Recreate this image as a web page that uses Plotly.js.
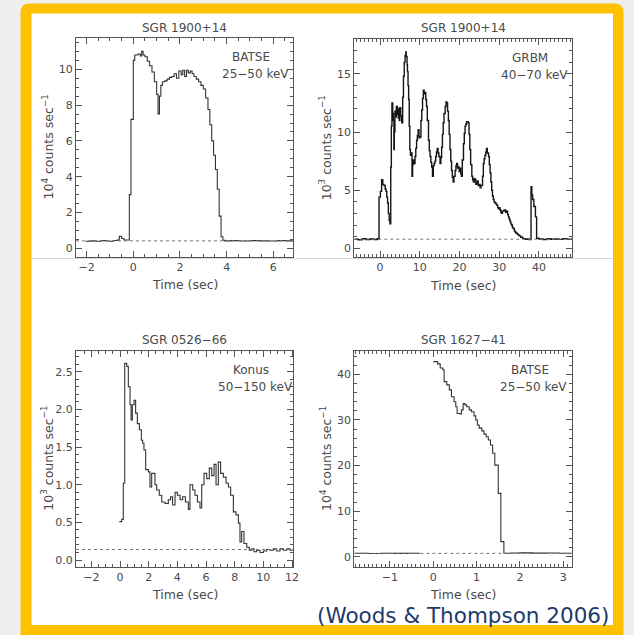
<!DOCTYPE html>
<html><head><meta charset="utf-8">
<script src="https://cdn.plot.ly/plotly-3.0.1.min.js"></script>
<style>html,body{margin:0;padding:0;background:#efefef;}</style>
</head><body><div id="chart" style="width:634px;height:635px;"></div>
<script>
// ---------- data ----------
const titles = ["SGR 1900+14", "SGR 1900+14", "SGR 0526\u221266", "SGR 1627\u221241"];
const instruments = ["BATSE", "GRBM", "Konus", "BATSE"];
const bands = ["25\u221250 keV", "40\u221270 keV", "50\u2212150 keV", "25\u221250 keV"];
const yUnits = ["10<sup>4</sup> counts sec<sup>\u22121</sup>", "10<sup>3</sup> counts sec<sup>\u22121</sup>",
                "10<sup>3</sup> counts sec<sup>\u22121</sup>", "10<sup>4</sup> counts sec<sup>\u22121</sup>"];
const bgLevels = [0.42, 0.78, 0.14, 0.73];

const t1 = [-2.05,-1.8,-1.6,-1.4,-1.2,-1.0,-0.85,-0.7,-0.6,-0.5,
  -0.4,-0.17,-0.1,0.0,0.06,0.2,0.3,0.36,0.42,0.5,
  0.6,0.7,0.8,0.9,1.0,1.06,1.12,1.18,1.25,1.35,
  1.45,1.55,1.65,1.75,1.85,1.95,2.05,2.12,2.2,2.28,
  2.36,2.44,2.52,2.6,2.7,2.8,2.9,3.0,3.1,3.2,
  3.28,3.36,3.44,3.52,3.6,3.68,3.76,3.84,3.92,4.2,
  4.6,5.0,5.4,5.8,6.2,6.6,6.85];
const c1 = [0.40,0.42,0.40,0.43,0.41,0.40,0.44,0.46,0.68,0.55,
  0.47,3.0,7.2,10.5,10.8,10.85,10.75,11.0,10.8,10.7,
  10.45,10.2,9.85,9.3,8.6,7.5,8.5,9.1,9.3,9.35,
  9.45,9.55,9.6,9.75,9.5,9.9,9.7,9.95,9.6,9.95,
  9.8,9.9,9.75,9.6,9.45,9.3,9.1,8.9,8.4,7.75,
  6.9,6.0,5.2,4.4,3.3,1.8,0.65,0.45,0.42,0.43,
  0.41,0.43,0.42,0.41,0.43,0.42,0.42];

const t2 = [-6.4,-5.5,-4.5,-3.5,-2.5,-1.5,-0.7,
  -0.25,0.1,0.4,0.7,1.0,1.3,1.5,1.7,1.9,2.1,2.3,2.5,
  2.7,2.85,3.0,3.2,3.35,3.5,3.6,3.75,3.9,4.1,
  4.4,4.6,4.7,4.85,5.0,5.2,5.45,5.7,5.9,6.1,
  6.3,6.5,6.6,6.8,6.9,7.05,7.2,7.35,7.5,7.65,
  7.8,8.05,8.2,8.4,8.6,8.8,9.0,9.2,9.4,9.6,
  9.8,10.1,10.3,10.5,10.7,10.9,11.1,11.3,11.5,11.7,
  11.9,12.2,12.4,12.6,12.8,13.0,13.2,13.4,13.6,13.8,
  14.0,14.2,14.4,14.6,14.8,15.1,15.3,15.5,15.7,15.9,
  16.1,16.4,16.6,16.8,17.0,17.2,17.4,17.6,17.8,18.0,
  18.2,18.4,18.6,18.9,19.1,19.3,19.5,19.7,19.9,20.1,
  20.3,20.5,20.7,21.0,21.2,21.4,21.6,21.8,22.0,22.2,
  22.4,22.6,22.8,23.1,23.3,23.5,23.7,23.9,24.1,24.3,
  24.5,24.7,24.9,25.2,25.4,25.6,25.8,26.0,26.2,26.4,
  26.6,26.8,27.0,27.3,27.5,27.7,27.9,28.1,28.3,28.5,
  28.7,28.9,29.2,29.4,29.6,29.8,30.0,30.2,30.4,30.6,
  30.8,31.0,31.2,31.4,31.6,31.9,32.1,32.3,32.5,32.7,
  32.9,33.1,33.3,33.5,33.8,34.0,34.2,34.4,34.6,34.8,
  35.0,35.2,35.4,35.6,35.9,36.1,36.5,37.0,37.5,38.0,
  38.2,38.4,38.7,39.1,39.4,40,41,42,43,44,
  45,46,47,48.3];
const c2 = [0.78,0.74,0.82,0.76,0.80,0.75,0.82,
  4.4,4.9,5.9,5.5,5.4,5.1,4.9,4.4,3.9,3.0,2.4,2.1,
  7.0,10.5,12.5,11.6,11.0,8.5,10.0,11.8,11.3,12.2,
  11.5,11.2,12.0,11.0,12.1,11.4,10.8,13.0,14.8,16.0,
  16.6,16.9,16.5,15.8,15.2,14.0,12.8,10.5,8.5,8.0,
  8.2,6.2,7.2,7.6,7.3,7.9,8.6,9.3,9.7,10.2,
  9.5,9.6,11.0,11.9,12.9,13.6,13.3,13.4,12.8,12.2,
  11.0,9.3,8.4,7.9,7.4,7.0,6.2,7.1,7.3,7.5,
  7.9,8.3,8.6,8.2,7.9,7.3,7.8,8.7,9.8,10.8,
  11.6,12.2,12.6,12.5,11.8,11.0,9.8,8.5,7.5,6.7,
  6.1,5.7,6.2,6.7,7.1,7.3,6.9,7.0,6.6,6.9,
  6.4,6.2,7.6,9.0,9.9,10.5,10.7,10.9,10.9,10.8,
  9.8,8.5,7.2,6.2,5.9,5.7,6.0,5.9,5.5,5.6,
  5.8,5.4,5.5,5.2,5.4,5.4,6.2,7.3,7.7,8.0,
  8.3,8.6,8.2,7.9,7.2,6.5,5.7,5.0,4.5,4.2,
  4.0,3.9,3.8,3.7,3.5,3.4,3.5,3.3,3.1,3.0,
  3.2,3.2,3.3,3.3,3.1,3.2,2.9,2.7,2.5,2.3,
  2.1,2.0,1.8,1.7,1.5,1.4,1.3,1.3,1.2,1.15,
  1.1,1.05,0.95,0.95,0.85,0.83,0.78,0.80,0.76,5.3,
  4.6,4.2,3.6,2.7,0.86,0.80,0.76,0.82,0.78,0.80,
  0.77,0.83,0.79,0.80];

const t3 = [-0.05,0.12,0.23,0.33,0.47,0.58,0.7,0.77,0.86,0.98,
  1.09,1.21,1.35,1.49,1.58,1.67,1.79,1.98,2.09,2.21,
  2.44,2.56,2.74,2.91,3.14,3.37,3.53,3.67,3.84,4.0,
  4.19,4.37,4.56,4.77,4.88,5.07,5.23,5.4,5.58,5.7,
  5.86,6.05,6.23,6.4,6.56,6.7,6.86,7.02,7.21,7.4,
  7.56,7.72,7.91,8.09,8.26,8.37,8.49,8.65,8.84,9.02,
  9.19,9.35,9.53,9.77,10.0,10.23,10.47,10.7,10.93,11.16,
  11.4,11.63,11.86,12.05];
const c3 = [0.51,0.54,1.02,2.61,2.57,2.3,2.06,1.86,2.06,2.12,
  1.95,1.81,1.73,1.59,1.55,1.46,1.2,1.17,0.97,1.15,
  1.0,0.93,0.86,0.77,0.75,0.8,0.84,0.73,0.9,0.86,
  0.8,0.84,0.77,0.67,1.0,0.93,0.86,0.77,0.69,1.0,
  1.15,1.08,1.22,1.12,1.27,1.0,1.3,1.15,1.1,1.02,
  0.97,0.86,0.64,0.6,0.49,0.24,0.38,0.22,0.17,0.13,
  0.15,0.11,0.13,0.1,0.12,0.14,0.13,0.15,0.12,0.15,
  0.13,0.15,0.13,0.13];

const t4 = [-1.81,-1.5,-1.2,-0.9,-0.6,-0.31,-0.2,
  0.0,0.1,0.16,0.22,0.25,0.31,0.37,0.42,0.48,0.52,
  0.55,0.62,0.65,0.69,0.73,0.77,0.83,0.88,0.94,0.98,
  1.02,1.06,1.12,1.17,1.22,1.27,1.32,1.37,1.42,1.5,
  1.56,1.63,1.8,2.0,2.3,2.6,2.9,3.19];
const c4 = [0.75,0.72,0.76,0.73,0.75,0.75,null,
  42.8,42.3,41.4,41.0,38.4,37.7,36.6,35.1,34.0,32.9,
  31.4,31.3,32.2,33.6,33.3,32.9,32.2,31.8,30.9,30.0,
  28.9,28.2,27.6,26.9,26.3,25.6,24.5,22.7,20.1,13.9,
  3.3,0.75,0.8,0.85,0.78,0.82,0.76,0.78];

// ---------- layout helpers ----------
const W = 634, H = 635;
const px = v => v / W, py = v => 1 - v / H;
const TXT = '#4a4a4a', AX = '#555', FONT = 'DejaVu Sans';

// panel boxes in pixels: [left, right, top, bottom]
const boxes = [[76, 293.3, 38.3, 256.7], [354.3, 572.3, 39, 257],
               [76, 293.3, 350.7, 566.7], [354.3, 571.7, 350.7, 566.7]];
const xr = [[-2.456, 6.857], [-6.47, 48.38], [-3.07, 12.09], [-1.824, 3.196]];
const yr = [[-0.466, 11.73], [-0.75, 18.01], [-0.088, 2.778], [-2.19, 45.19]];
const xd = [[2, 0.5], [10, 1], [2, 0.5], [1, 0.1]];
const yd = [[2, 0.5], [5, 1], [0.5, 0.1], [10, 2]];
const yfmt = ['d', 'd', '.1f', 'd'];

function axis(b, isX, i) {
  const dom = isX ? [px(b[0]), px(b[1])] : [py(b[3]), py(b[2])];
  const d = isX ? xd[i] : yd[i];
  return {
    domain: dom, anchor: (isX ? 'y' : 'x') + (i ? i + 1 : ''),
    range: isX ? xr[i] : yr[i], dtick: d[0], tick0: 0,
    ticks: 'inside', ticklen: 6, tickwidth: 1, tickcolor: AX,
    showline: true, linecolor: AX, linewidth: 1, mirror: 'ticks',
    showgrid: false, zeroline: false, fixedrange: true,
    tickformat: isX ? '' : yfmt[i],
    tickfont: {family: FONT, size: 11, color: TXT},
    minor: {dtick: d[1], tick0: 0, ticks: 'inside', ticklen: 3, tickwidth: 1, tickcolor: AX, showgrid: false}
  };
}

const layout = {
  width: W, height: H, margin: {l: 0, r: 0, t: 0, b: 0},
  paper_bgcolor: '#efefef', plot_bgcolor: 'white', showlegend: false,
  annotations: [], shapes: []
};
const ts = [t1, t2, t3, t4], cs = [c1, c2, c3, c4];
const traces = [];
for (let i = 0; i < 4; i++) {
  const s = i ? String(i + 1) : '';
  const b = boxes[i];
  layout['xaxis' + s] = axis(b, true, i);
  layout['yaxis' + s] = axis(b, false, i);
  traces.push({x: ts[i], y: cs[i], xaxis: 'x' + s, yaxis: 'y' + s, type: 'scatter', mode: 'lines',
    line: {shape: 'hv', color: i === 1 ? '#151515' : '#333', width: i === 1 ? 1.4 : 1.1},
    hoverinfo: 'skip', connectgaps: false});
  layout.shapes.push({type: 'line', xref: 'x' + s + ' domain', yref: 'y' + s, x0: 0, x1: 1,
    y0: bgLevels[i], y1: bgLevels[i], line: {color: '#777', width: 1, dash: 'dot'}, layer: 'above'});
  const cx = (b[0] + b[1]) / 2, cy = (b[2] + b[3]) / 2;
  const ann = (x, y, text, size, extra) => layout.annotations.push(Object.assign({
    xref: 'paper', yref: 'paper', x: px(x), y: py(y), text: text, showarrow: false,
    xanchor: 'center', yanchor: 'middle', font: {family: FONT, size: size, color: TXT}}, extra || {}));
  ann(cx, b[2] - 10.5, titles[i], 12);
  ann(cx, b[3] + 28, 'Time (sec)', 12.5);
  ann(b[0] - 29, cy, yUnits[i], 12.5, {textangle: -90});
  ann(b[1] - 42, b[2] + 19, instruments[i], 12);
  ann(b[1] - 38, b[2] + 36, bands[i], 12);
}

// frame (yellow border with white panel)
const fr = [20.5, 3.5, 623.5, 640], rad = 9;
layout.shapes.push({type: 'path', xref: 'paper', yref: 'paper', layer: 'below',
  path: `M ${px(fr[0])},${py(fr[1] + rad)} Q ${px(fr[0])},${py(fr[1])} ${px(fr[0] + rad)},${py(fr[1])} ` +
        `L ${px(fr[2] - rad)},${py(fr[1])} Q ${px(fr[2])},${py(fr[1])} ${px(fr[2])},${py(fr[1] + rad)} ` +
        `L ${px(fr[2])},${py(fr[3])} L ${px(fr[0])},${py(fr[3])} Z`,
  fillcolor: '#FFC000', line: {width: 0}});
layout.shapes.push({type: 'rect', xref: 'paper', yref: 'paper', layer: 'below',
  x0: px(31.5), x1: px(613), y0: py(625), y1: py(13.5), fillcolor: 'white', line: {width: 0}});
layout.shapes.push({type: 'line', xref: 'paper', yref: 'paper', layer: 'above',
  x0: px(31.5), x1: px(613), y0: py(258.5), y1: py(258.5), line: {color: '#d8d8d8', width: 1}});

layout.annotations.push({xref: 'paper', yref: 'paper', x: px(463), y: py(615), showarrow: false,
  xanchor: 'center', yanchor: 'middle', text: '(Woods &amp; Thompson 2006)',
  font: {family: FONT, size: 21.5, color: '#1d3a6a'}});

Plotly.newPlot('chart', traces, layout, {staticPlot: true, displayModeBar: false});
</script></body></html>
